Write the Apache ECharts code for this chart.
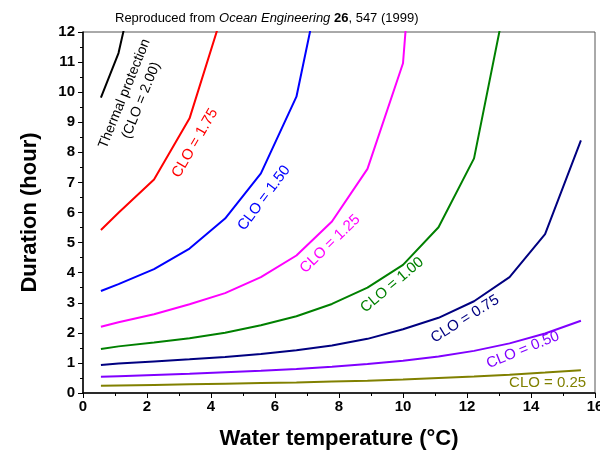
<!DOCTYPE html>
<html>
<head>
<meta charset="utf-8">
<script src="https://cdn.jsdelivr.net/npm/echarts@6/dist/echarts.min.js"></script>
<style>
  html, body { margin: 0; padding: 0; background: #fff; }
  #chart { width: 600px; height: 450px; }
</style>
</head>
<body>
<div id="chart"></div>
<script>
// water temperature points (33..60 F in degC)
let temps = [0.56, 1.11, 2.22, 3.33, 4.44, 5.56, 6.67, 7.78, 8.89, 10.0, 11.11, 12.22, 13.33, 14.44, 15.56];

// duration (hour) per clothing level
let clo200 = [9.82, 11.3, 16.5];
let clo175 = [5.42, 5.99, 7.10, 9.13, 12.9];
let clo150 = [3.39, 3.62, 4.12, 4.80, 5.80, 7.30, 9.85, 15.5];
let clo125 = [2.20, 2.35, 2.62, 2.95, 3.32, 3.85, 4.57, 5.70, 7.45, 10.96, 26];
let clo100 = [1.46, 1.55, 1.68, 1.82, 2.00, 2.25, 2.55, 2.96, 3.50, 4.26, 5.51, 7.80, 13.7];
let clo075 = [0.93, 0.98, 1.05, 1.12, 1.20, 1.30, 1.42, 1.58, 1.80, 2.12, 2.50, 3.05, 3.85, 5.28, 8.40];
let clo050 = [0.54, 0.56, 0.60, 0.64, 0.69, 0.74, 0.80, 0.87, 0.96, 1.07, 1.21, 1.40, 1.65, 1.98, 2.40];
let clo025 = [0.24, 0.25, 0.27, 0.29, 0.31, 0.33, 0.35, 0.38, 0.41, 0.45, 0.50, 0.55, 0.61, 0.68, 0.76];

let curveNames = ["CLO = 2.00", "CLO = 1.75", "CLO = 1.50", "CLO = 1.25", "CLO = 1.00", "CLO = 0.75", "CLO = 0.50", "CLO = 0.25"];
let curveData = [clo200, clo175, clo150, clo125, clo100, clo075, clo050, clo025];
let curveColors = ["#000000", "#ff0000", "#0000ff", "#ff00ff", "#008000", "#000080", "#8000ff", "#808000"];

// curve labels: text, anchor [temp, hour], angle in degrees
let labelText = ["Thermal protection\n(CLO = 2.00)", "CLO = 1.75", "CLO = 1.50", "CLO = 1.25", "CLO = 1.00", "CLO = 0.75", "CLO = 0.50", "CLO = 0.25"];
let labelAt = [[1.56, 9.84], [3.5, 8.31], [5.66, 6.48], [7.72, 4.95], [9.66, 3.59], [11.94, 2.46], [13.75, 1.43], [14.52, 0.33]];
let labelAngle = [68, 60, 53, 44, 40, 32, 22, 0];

let font = "'Liberation Sans', Arial, sans-serif";

let chart = echarts.init(document.getElementById("chart"));

let series = curveData.map((vals, i) => ({
	name: curveNames[i],
	type: "line",
	data: vals.map((v, j) => [temps[j], v]),
	showSymbol: false,
	symbol: "none",
	smooth: false,
	clip: true,
	lineStyle: { color: curveColors[i], width: 2 },
	itemStyle: { color: curveColors[i] },
	z: 3
}));

let axisCommon = {
	axisLine: { show: true, lineStyle: { color: "#000", width: 1.5 } },
	axisTick: { show: true, inside: false, length: 5, lineStyle: { color: "#000", width: 1 } },
	minorTick: { show: true, splitNumber: 2, length: 3, lineStyle: { color: "#000", width: 1 } },
	splitLine: { show: false },
	axisLabel: { color: "#000", fontFamily: font, fontWeight: "bold", fontSize: 15 },
	nameTextStyle: { color: "#000", fontFamily: font, fontWeight: "bold", fontSize: 22 }
};

let opt = {
	animation: false,
	backgroundColor: "#fff",
	title: {
		text: "Reproduced from {i|Ocean Engineering} {b|26}, 547 (1999)",
		left: 110,
		top: 7,
		textStyle: {
			fontFamily: font, fontSize: 13, fontWeight: "normal", color: "#000",
			rich: {
				i: { fontFamily: font, fontSize: 13, fontStyle: "italic", color: "#000" },
				b: { fontFamily: font, fontSize: 13, fontWeight: "bold", color: "#000" }
			}
		}
	},
	grid: {
		left: 83, right: 5, top: 32, bottom: 57,
		containLabel: false,
		outerBoundsMode: "none",
		show: true, borderColor: "#555", borderWidth: 1, backgroundColor: "transparent"
	},
	xAxis: Object.assign({}, axisCommon, {
		type: "value",
		min: 0, max: 16, interval: 2,
		name: "Water temperature (\u00b0C)",
		nameLocation: "middle",
		nameGap: 35,
		axisLabel: Object.assign({}, axisCommon.axisLabel, { margin: 6 })
	}),
	yAxis: Object.assign({}, axisCommon, {
		type: "value",
		min: 0, max: 12, interval: 1,
		name: "Duration (hour)",
		nameLocation: "middle",
		nameGap: 42,
		axisLabel: Object.assign({}, axisCommon.axisLabel, { margin: 8 })
	}),
	series: series
};

chart.setOption(opt);

// place curve labels from data coordinates
let g = labelText.map((t, i) => {
	let p = chart.convertToPixel({ gridIndex: 0 }, labelAt[i]);
	return {
		type: "text",
		x: p[0],
		y: p[1],
		rotation: labelAngle[i] * Math.PI / 180,
		z: 10,
		style: {
			text: t,
			fill: curveColors[i],
			font: (i == 0 ? "14px " : "15px ") + font,
			align: "center",
			verticalAlign: "middle",
			lineHeight: 18
		}
	};
});
chart.setOption({ graphic: g });
</script>
</body>
</html>
